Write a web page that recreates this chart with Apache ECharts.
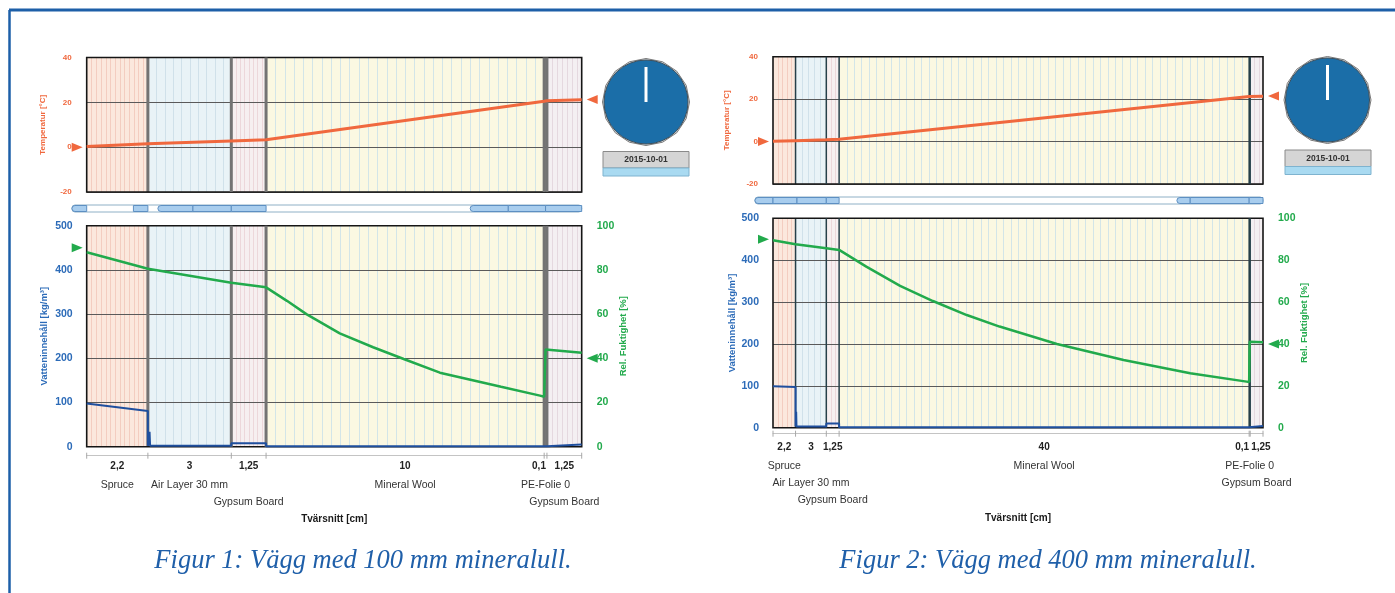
<!DOCTYPE html>
<html>
<head>
<meta charset="utf-8">
<title>Vägg med mineralull</title>
<script src="https://cdn.jsdelivr.net/npm/echarts@6/dist/echarts.min.js"></script>
<style>
  html, body { margin: 0; padding: 0; background: #fff; }
  #chart { width: 1395px; height: 593px; }
</style>
</head>
<body>
<div id="chart"></div>
<script>
// uppbyggnad av väggen, tjocklek i cm
var layerNames = ["Spruce", "Air Layer 30 mm", "Gypsum Board", "Mineral Wool", "PE-Folie 0", "Gypsum Board"];
var thick1 = [2.2, 3, 1.25, 10, 0.1, 1.25];
var thick2 = [2.2, 3, 1.25, 40, 0.1, 1.25];
var thickText1 = ["2,2", "3", "1,25", "10", "0,1", "1,25"];
var thickText2 = ["2,2", "3", "1,25", "40", "0,1", "1,25"];
var thickAlign1 = ["center", "center", "center", "center", "right", "center"];
var thickAlign2 = ["center", "center", "center", "center", "right", "left"];
var nameRow1 = [0, 0, 1, 0, 0, 1];
var nameRow2 = [0, 1, 2, 0, 0, 1];
var mesh1 = [13, 10, 8, 30, 0, 7];
var mesh2 = [5, 5, 3, 55, 0, 3];

// axlar: [min, max, intervall]
var tempAxis = [-20, 40, 20];
var waterAxis = [0, 500, 100];
var rhAxis = [0, 100, 20];

// figur 1, 100 mm mineralull: [cm, värde]
var temp1 = [[0, 0.3], [2.2, 1.5], [5.2, 2.8], [6.45, 3.3], [16.45, 20.5], [16.55, 20.7], [17.8, 21.1]];
var rh1 = [[0, 88], [2.2, 80.5], [5.2, 74.2], [6.45, 72.1], [7.2, 66], [7.9, 60], [9.1, 51.3], [10.3, 45],
  [11.4, 39.7], [12.7, 33.5], [14.9, 27.1], [16.3, 23.1], [16.45, 22.6], [16.5, 44], [17.8, 42.5]];
var water1 = [[0, 98], [2.2, 81], [2.2, 2], [2.24, 2], [2.26, 34], [2.28, 2], [5.2, 2], [5.2, 8], [6.45, 8],
  [6.45, 1], [16.45, 1], [16.55, 1], [16.55, 5], [17.8, 5]];
var tempBc1 = [0, 21.3];   // ute, inne
var rhBc1 = [90, 40];
var bar1 = [[-0.53, 17.8, 0], [-0.53, 0, 2], [1.68, 2.2, 1], [2.56, 3.82, 2], [3.82, 5.2, 1], [5.2, 6.45, 1],
  [13.79, 15.16, 2], [15.16, 16.5, 1], [16.5, 17.8, 1]];

// figur 2, 400 mm mineralull
var temp2 = [[0, 0.1], [2.2, 0.4], [5.2, 0.8], [6.45, 1.1], [46.45, 21.2], [46.55, 21.3], [47.8, 21.4]];
var rh2 = [[0, 89.5], [2.2, 87.6], [5.2, 85.7], [6.45, 84.9], [9.1, 76.9], [12.4, 67.7], [15.6, 60.5],
  [18.9, 53.8], [22.1, 48.3], [27.7, 40], [34.2, 32.3], [40.7, 26], [46.2, 22], [46.45, 21.8], [46.5, 41], [47.8, 40.8]];
var water2 = [[0, 99], [2.2, 97], [2.2, 3], [2.24, 3], [2.26, 38], [2.29, 3], [5.2, 3], [5.2, 10], [6.45, 10],
  [6.45, 1], [46.45, 1], [46.55, 1], [46.55, 4], [47.8, 4]];
var tempBc2 = [0, 21.5];
var rhBc2 = [90, 40];
var bar2 = [[-1.76, 47.8, 0], [-1.76, 0, 2], [0, 2.34, 1], [2.34, 5.2, 1], [5.2, 6.45, 1],
  [39.4, 40.7, 2], [40.7, 46.45, 1], [46.45, 47.8, 1]];

var dateText = "2015-10-01";

var FONT = "Liberation Sans, Arial, sans-serif";
var ORANGE = "#f0683e", BLUE = "#2c6bb8", GREEN = "#22aa4c";
var bgColors = ["#fbe8dd", "#e9f3f7", "#f6eff0", "#fbf8e2", "#8c8c8c", "#f4eff2"];
var meshColors = ["#f3cdc0", "#d0e1ea", "#ecd7da", "#d3e5e8", "#777777", "#e5d8df"];

var layout1 = { left: 86.7, width: 495, tempTop: 57.5, tempH: 134.5, barTop: 205, lowTop: 225.7, lowH: 221,
  axisOff: 9, nameGap: 59, bColor: "#737373", bWidth: 3, pe: "#8c8c8c", tempGap: 40, lowGap: 37, nameShift: 0 };
var layout2 = { left: 773, width: 490, tempTop: 56.7, tempH: 127.3, barTop: 197, lowTop: 218.3, lowH: 209.4,
  axisOff: 6, nameGap: 80, bColor: "#26404a", bWidth: 1.5, pe: "#111111", tempGap: 42, lowGap: 35, nameShift: 0 };

function cumLayers(thick) {
  var out = [], x = 0;
  for (var i = 0; i < thick.length; i++) { out.push([x, x + thick[i], i]); x += thick[i]; }
  return out;
}

function txt(x, y, text, font, fill, align, valign) {
  return { type: "text", x: x, y: y,
    style: { text: text, font: font, fill: fill, align: align, textAlign: align,
      verticalAlign: valign || "middle", textVerticalAlign: valign || "middle" } };
}

function bgRender(mesh, L) {
  return function (params, api) {
    var cs = params.coordSys;
    var x0 = api.coord([api.value(0), 0])[0];
    var x1 = api.coord([api.value(1), 0])[0];
    var i = api.value(2);
    var kids = [{ type: "rect", shape: { x: x0, y: cs.y, width: x1 - x0, height: cs.height },
      style: { fill: i === 4 ? L.pe : bgColors[i] } }];
    var n = mesh[i];
    for (var k = 1; k < n; k++) {
      var xx = Math.round(x0 + (x1 - x0) * k / n) + 0.5;
      kids.push({ type: "line", shape: { x1: xx, y1: cs.y, x2: xx, y2: cs.y + cs.height },
        style: { stroke: meshColors[i], lineWidth: 1 } });
    }
    return { type: "group", children: kids };
  };
}

function frameRender(count, L) {
  return function (params, api) {
    var cs = params.coordSys;
    var i = api.value(2);
    var kids = [];
    if (i < count - 1) {
      var xe = api.coord([api.value(1), 0])[0];
      kids.push({ type: "line", shape: { x1: xe, y1: cs.y, x2: xe, y2: cs.y + cs.height },
        style: { stroke: L.bColor, lineWidth: L.bWidth } });
    }
    if (i === 0) {
      kids.push({ type: "rect", shape: { x: cs.x, y: cs.y, width: cs.width, height: cs.height },
        style: { fill: null, stroke: "#151515", lineWidth: 1.6 } });
    }
    return { type: "group", children: kids };
  };
}

function markerRender(color) {
  return function (params, api) {
    var cs = params.coordSys;
    var y = api.coord([0, api.value(1)])[1];
    var pts;
    if (api.value(0) === 0) {
      var t = cs.x - 4;
      pts = [[t, y], [t - 11, y - 4.5], [t - 11, y + 4.5]];
    } else {
      var r = cs.x + cs.width + 5;
      pts = [[r, y], [r + 11, y - 4.5], [r + 11, y + 4.5]];
    }
    return { type: "polygon", shape: { points: pts }, style: { fill: color } };
  };
}

function barRender(params, api) {
  var cs = params.coordSys;
  var x0 = api.coord([api.value(0), 0])[0];
  var x1 = api.coord([api.value(1), 0])[0];
  var kind = api.value(2);
  if (kind === 0) {
    return { type: "rect", shape: { x: x0, y: cs.y, width: x1 - x0, height: cs.height, r: 3 },
      style: { fill: "#ffffff", stroke: "#8fb0c6", lineWidth: 1 } };
  }
  return { type: "rect", shape: { x: x0, y: cs.y + 0.5, width: x1 - x0, height: cs.height - 1,
    r: kind === 2 ? [4, 0, 0, 4] : 0 },
    style: { fill: "#a8cdee", stroke: "#5d8fc2", lineWidth: 1 } };
}

function axisRender(count, texts, aligns, rows, L) {
  return function (params, api) {
    var cs = params.coordSys;
    var bottom = cs.y + cs.height;
    var ay = bottom + L.axisOff;
    var x0 = api.coord([api.value(0), 0])[0];
    var x1 = api.coord([api.value(1), 0])[0];
    var i = api.value(2);
    var cx = (x0 + x1) / 2;
    var kids = [{ type: "line", shape: { x1: x0, y1: ay - 3, x2: x0, y2: ay + 3 }, style: { stroke: "#a8a8a8", lineWidth: 1 } }];
    if (i === count - 1) {
      kids.push({ type: "line", shape: { x1: x1, y1: ay - 3, x2: x1, y2: ay + 3 }, style: { stroke: "#a8a8a8", lineWidth: 1 } });
    }
    var a = aligns[i];
    var tx = a === "center" ? cx : (a === "right" ? x1 - 1 : x0 + 1);
    kids.push(txt(tx, bottom + 19.5, texts[i], "bold 10px " + FONT, "#222", a));
    kids.push(txt(cx, bottom + 38.5 + 16.8 * rows[i], layerNames[i], "10.5px " + FONT, "#333", "center"));
    return { type: "group", children: kids };
  };
}

var option = {
  animation: false,
  backgroundColor: "#ffffff",
  grid: [], xAxis: [], yAxis: [], series: [],
  graphic: []
};

function addFigure(k, L, d) {
  var lay = cumLayers(d.thick);
  var total = lay[lay.length - 1][1];
  var g = 3 * k, y = 4 * k;
  option.grid.push(
    { left: L.left, top: L.tempTop, width: L.width, height: L.tempH },
    { left: L.left, top: L.barTop, width: L.width, height: 7 },
    { left: L.left, top: L.lowTop, width: L.width, height: L.lowH }
  );
  option.xAxis.push(
    { type: "value", gridIndex: g, min: 0, max: total, show: false },
    { type: "value", gridIndex: g + 1, min: 0, max: total, show: false },
    { type: "value", gridIndex: g + 2, min: 0, max: total, offset: L.axisOff, z: 3,
      axisLine: { onZero: false, lineStyle: { color: "#c4c4c4", width: 1 } },
      axisTick: { show: false }, axisLabel: { show: false }, splitLine: { show: false },
      name: "Tvärsnitt [cm]", nameLocation: "middle", nameGap: L.nameGap,
      nameTextStyle: { fontFamily: FONT, fontWeight: "bold", fontSize: 10, color: "#1a1a1a" } }
  );
  var ySplit = { show: true, lineStyle: { color: "#5a5a5a", width: 1 } };
  option.yAxis.push(
    { type: "value", gridIndex: g, min: tempAxis[0], max: tempAxis[1], interval: tempAxis[2], z: 3,
      axisLine: { show: false }, axisTick: { show: false }, splitLine: ySplit,
      axisLabel: { color: ORANGE, fontFamily: FONT, fontWeight: "bold", fontSize: 8, margin: 15 },
      name: "Temperatur [°C]", nameLocation: "middle", nameRotate: 90, nameGap: L.tempGap,
      nameTextStyle: { color: ORANGE, fontFamily: FONT, fontWeight: "bold", fontSize: 8 } },
    { type: "value", gridIndex: g + 1, min: 0, max: 1, show: false },
    { type: "value", gridIndex: g + 2, min: waterAxis[0], max: waterAxis[1], interval: waterAxis[2], z: 3,
      axisLine: { show: false }, axisTick: { show: false }, splitLine: ySplit,
      axisLabel: { color: BLUE, fontFamily: FONT, fontWeight: "bold", fontSize: 10.5, margin: 14 },
      name: "Vatteninnehåll [kg/m³]", nameLocation: "middle", nameRotate: 90, nameGap: L.lowGap,
      nameTextStyle: { color: BLUE, fontFamily: FONT, fontWeight: "bold", fontSize: 9.5 } },
    { type: "value", gridIndex: g + 2, position: "right", min: rhAxis[0], max: rhAxis[1], interval: rhAxis[2], z: 3,
      axisLine: { show: false }, axisTick: { show: false }, splitLine: { show: false },
      axisLabel: { color: GREEN, fontFamily: FONT, fontWeight: "bold", fontSize: 10.5, margin: 15 },
      name: "Rel. Fuktighet [%]", nameLocation: "middle", nameRotate: 90, nameGap: 35,
      nameTextStyle: { color: GREEN, fontFamily: FONT, fontWeight: "bold", fontSize: 9.5 } }
  );
  var n = lay.length;
  [[g, y], [g + 2, y + 2]].forEach(function (ax) {
    option.series.push(
      { type: "custom", xAxisIndex: ax[0], yAxisIndex: ax[1], z: 1, silent: true,
        renderItem: bgRender(d.mesh, L), data: lay },
      { type: "custom", xAxisIndex: ax[0], yAxisIndex: ax[1], z: 4, silent: true,
        renderItem: frameRender(n, L), data: lay }
    );
  });
  option.series.push(
    { type: "custom", xAxisIndex: g + 1, yAxisIndex: y + 1, z: 4, silent: true, clip: false,
      renderItem: barRender, data: d.bar },
    { type: "custom", xAxisIndex: g + 2, yAxisIndex: y + 2, z: 4, silent: true, clip: false,
      renderItem: axisRender(n, d.thickText, d.thickAlign, d.rows, L), data: lay },
    { type: "line", name: "Temperatur", xAxisIndex: g, yAxisIndex: y, z: 5, data: d.temp,
      showSymbol: false, lineStyle: { color: ORANGE, width: 3 } },
    { type: "line", name: "Vatteninnehåll", xAxisIndex: g + 2, yAxisIndex: y + 2, z: 5, data: d.water,
      showSymbol: false, clip: false, lineStyle: { color: "#1f4f9e", width: 2 } },
    { type: "line", name: "Rel. Fuktighet", xAxisIndex: g + 2, yAxisIndex: y + 3, z: 6, data: d.rh,
      showSymbol: false, lineStyle: { color: GREEN, width: 2.5 } },
    { type: "custom", xAxisIndex: g, yAxisIndex: y, z: 6, clip: false, silent: true,
      renderItem: markerRender(ORANGE), data: [[0, d.tempBc[0]], [1, d.tempBc[1]]] },
    { type: "custom", xAxisIndex: g + 2, yAxisIndex: y + 3, z: 6, clip: false, silent: true,
      renderItem: markerRender(GREEN), data: [[0, d.rhBc[0]], [1, d.rhBc[1]]] }
  );
}

addFigure(0, layout1, { thick: thick1, thickText: thickText1, thickAlign: thickAlign1, rows: nameRow1,
  mesh: mesh1, temp: temp1, rh: rh1, water: water1, tempBc: tempBc1, rhBc: rhBc1, bar: bar1 });
addFigure(1, layout2, { thick: thick2, thickText: thickText2, thickAlign: thickAlign2, rows: nameRow2,
  mesh: mesh2, temp: temp2, rh: rh2, water: water2, tempBc: tempBc2, rhBc: rhBc2, bar: bar2 });

// klocka och datum
function clock(cx, cy, boxX, boxY) {
  var poly = [];
  for (var i = 0; i < 16; i++) {
    var a = Math.PI * 2 * i / 16;
    poly.push([cx + 43.5 * Math.cos(a), cy + 43.5 * Math.sin(a)]);
  }
  return [
    { type: "polygon", shape: { points: poly }, style: { fill: "#e4e4e4", stroke: "#7a7a7a", lineWidth: 1 } },
    { type: "circle", shape: { cx: cx, cy: cy, r: 42 }, style: { fill: "#1b6ea8", stroke: "#3d4f5c", lineWidth: 1 } },
    { type: "line", shape: { x1: cx, y1: cy, x2: cx, y2: cy - 35 }, style: { stroke: "#ffffff", lineWidth: 3 } },
    { type: "rect", shape: { x: boxX, y: boxY, width: 86, height: 16.5 }, style: { fill: "#d5d5d5", stroke: "#8a8a8a", lineWidth: 1 } },
    { type: "rect", shape: { x: boxX, y: boxY + 16.5, width: 86, height: 8 }, style: { fill: "#a9daf1", stroke: "#7eb3cf", lineWidth: 1 } },
    { type: "text", x: boxX + 43, y: boxY + 8.5, style: { text: dateText, font: "bold 8.5px " + FONT, fill: "#333",
      align: "center", textAlign: "center", verticalAlign: "middle", textVerticalAlign: "middle" } }
  ];
}

var CAPTION_FONT = "italic 26.5px Liberation Serif, Times New Roman, serif";
option.graphic = [
  { type: "line", shape: { x1: 9, y1: 10, x2: 1395, y2: 10 }, style: { stroke: "#1d5fa8", lineWidth: 3 } },
  { type: "line", shape: { x1: 9.5, y1: 10, x2: 9.5, y2: 593 }, style: { stroke: "#1d5fa8", lineWidth: 2.5 } },
  { type: "text", x: 363, y: 561, style: { text: "Figur 1: Vägg med 100 mm mineralull.", font: CAPTION_FONT,
    fill: "#1f5fa9", align: "center", textAlign: "center", verticalAlign: "middle", textVerticalAlign: "middle" } },
  { type: "text", x: 1048, y: 561, style: { text: "Figur 2: Vägg med 400 mm mineralull.", font: CAPTION_FONT,
    fill: "#1f5fa9", align: "center", textAlign: "center", verticalAlign: "middle", textVerticalAlign: "middle" } }
].concat(clock(646, 102, 603, 151.5), clock(1327.5, 100, 1285, 150));

var chart = echarts.init(document.getElementById("chart"));
chart.setOption(option);
</script>
</body>
</html>
